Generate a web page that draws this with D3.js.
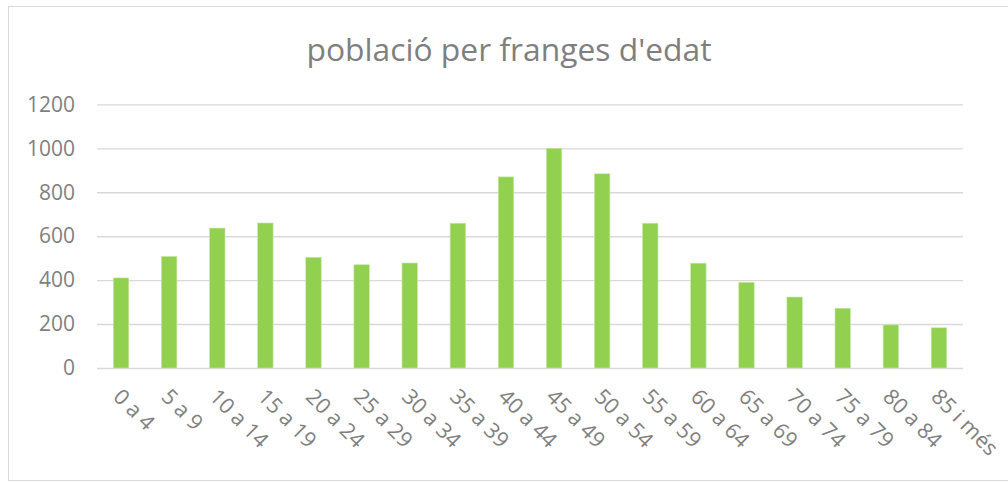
<!DOCTYPE html>
<html>
<head>
<meta charset="utf-8">
<script src="https://cdn.jsdelivr.net/npm/d3@7"></script>
<style>
  html, body { margin: 0; padding: 0; background: #fff; }
  svg text { font-family: "Open Sans", "Noto Sans", sans-serif; fill: #7f7f7f; }
</style>
</head>
<body>
<div id="chart"></div>
<script>
// age bands and population per band
const ageBands = ["0 a 4", "5 a 9", "10 a 14", "15 a 19", "20 a 24", "25 a 29", "30 a 34",
  "35 a 39", "40 a 44", "45 a 49", "50 a 54", "55 a 59", "60 a 64", "65 a 69",
  "70 a 74", "75 a 79", "80 a 84", "85 i més"];
const population = [410, 508, 637, 660, 504, 470, 478, 659, 870, 1000, 884, 659, 477, 390,
  323, 272, 196, 183];
const yTicks = [0, 200, 400, 600, 800, 1000, 1200];
const title = "població per franges d'edat";

const W = 1008, H = 482;
const plot = { left: 97, right: 963, top: 104.4, bottom: 368 };

const svg = d3.select("#chart").append("svg")
  .attr("width", W).attr("height", H);

// chart frame (right edge runs off the picture)
svg.append("rect")
  .attr("x", 8.5).attr("y", 6.5)
  .attr("width", W + 10).attr("height", 474)
  .attr("fill", "#fff")
  .attr("stroke", "#d9d9d9").attr("stroke-width", 1);

svg.append("text")
  .attr("x", 509).attr("y", 61)
  .attr("text-anchor", "middle")
  .attr("font-size", 31.8)
  .text(title);

const x = d3.scaleBand()
  .domain(ageBands)
  .range([plot.left, plot.right])
  .paddingInner(0.68).paddingOuter(0.34);

const y = d3.scaleLinear()
  .domain([0, 1200])
  .range([plot.bottom, plot.top]);

// gridlines + y tick labels
const yAxis = svg.append("g")
  .attr("transform", `translate(${plot.left},0)`)
  .call(d3.axisLeft(y).tickValues(yTicks).tickFormat(d3.format("d"))
    .tickSize(-(plot.right - plot.left)).tickPadding(22));
yAxis.select(".domain").remove();
yAxis.selectAll(".tick line").attr("stroke", "#d9d9d9").attr("stroke-width", 1.4);
yAxis.selectAll(".tick text")
  .attr("font-size", 21)
  .attr("fill", "#7f7f7f");

// bars
svg.append("g").selectAll("rect").data(ageBands).join("rect")
  .attr("x", d => x(d))
  .attr("y", (d, i) => y(population[i]))
  .attr("width", x.bandwidth())
  .attr("height", (d, i) => y(0) - y(population[i]))
  .attr("fill", "#92d050")
  .attr("stroke", "#c5e6a6").attr("stroke-width", 0.6);

// rotated category labels
svg.append("g").selectAll("text").data(ageBands).join("text")
  .attr("transform", d => `translate(${x(d) + x.bandwidth() / 2 - 9},${398}) rotate(45)`)
  .attr("font-size", 21.5)
  .text(d => d);
</script>
</body>
</html>
